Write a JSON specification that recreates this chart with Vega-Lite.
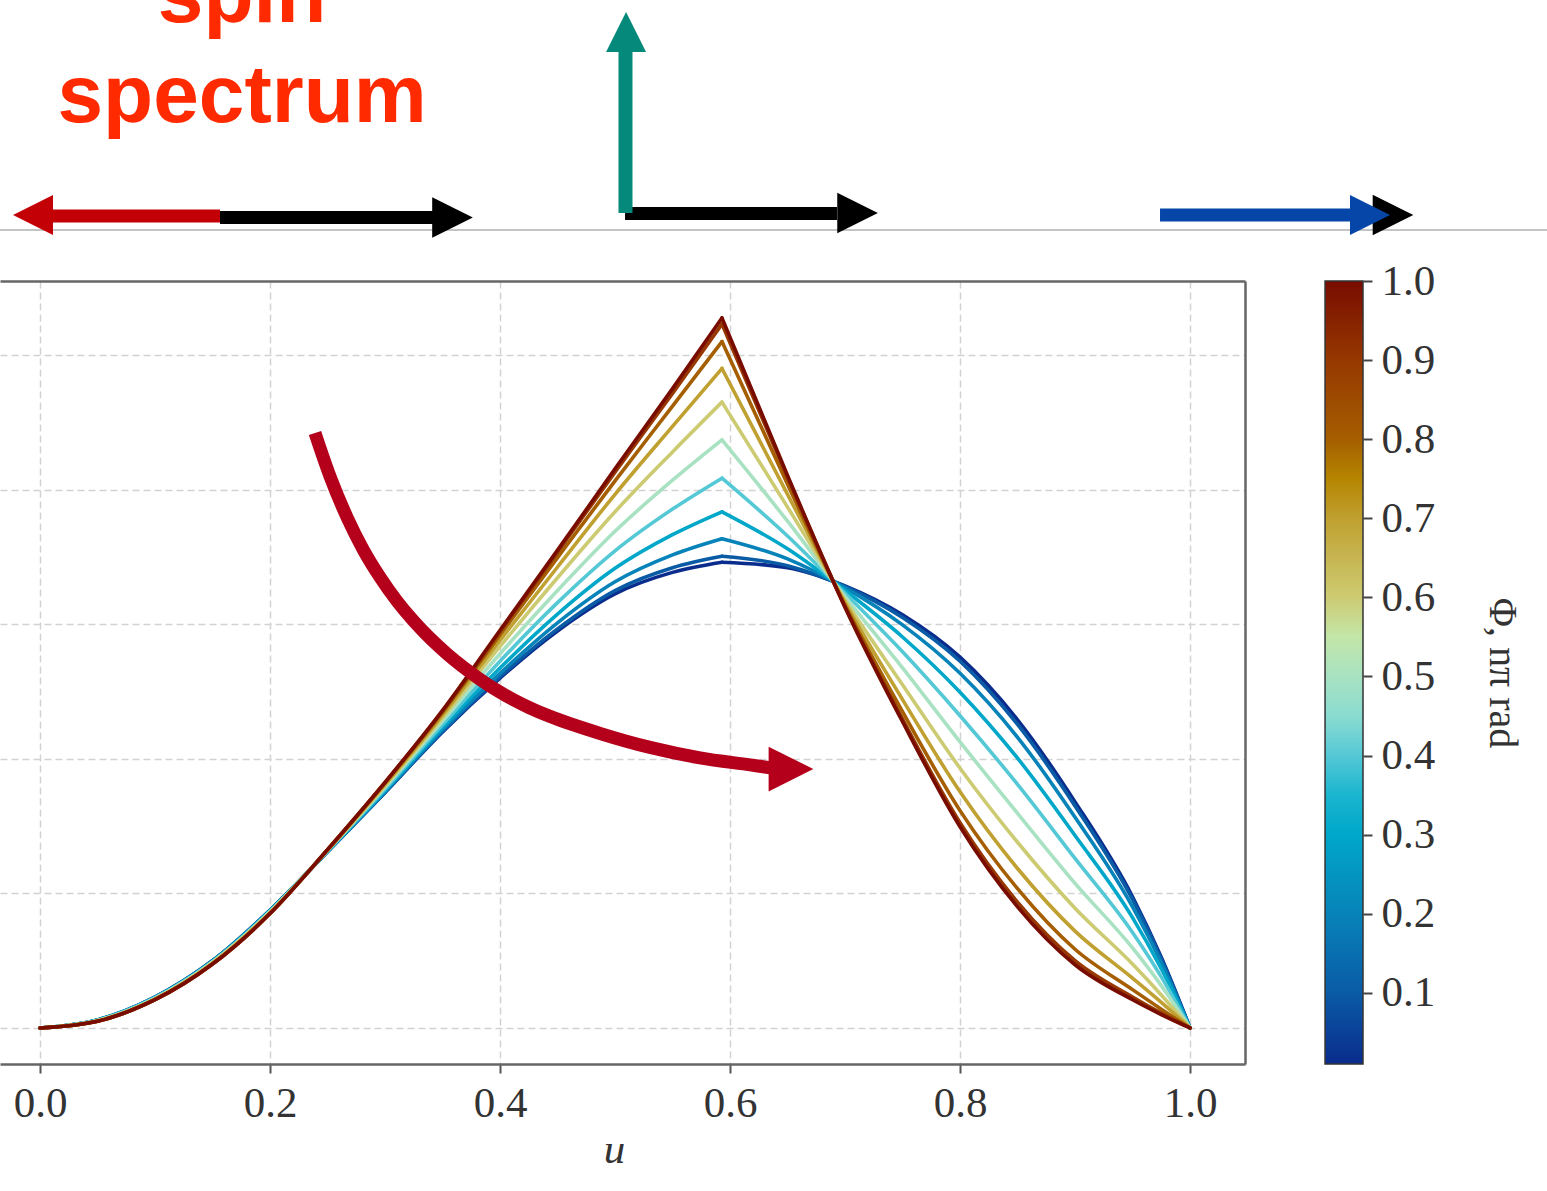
{
  "$schema": "https://vega.github.io/schema/vega-lite/v6.json",
  "width": 1245,
  "height": 783,
  "autosize": {"type": "none"},
  "padding": {"left": 0, "top": 281, "right": 302, "bottom": 127},
  "background": "white",
  "config": {"view": {"stroke": null}, "font": "Liberation Serif"},
  "datasets": {
    "curves": [
      {"phi":0.01,"seg":"a","u":0,"v":0},{"phi":0.01,"seg":"a","u":0.05,"v":0.012},{"phi":0.01,"seg":"a","u":0.1,"v":0.046},{"phi":0.01,"seg":"a","u":0.15,"v":0.100},{"phi":0.01,"seg":"a","u":0.2,"v":0.175},{"phi":0.01,"seg":"a","u":0.25,"v":0.262},{"phi":0.01,"seg":"a","u":0.3,"v":0.350},{"phi":0.01,"seg":"a","u":0.35,"v":0.440},{"phi":0.01,"seg":"a","u":0.4,"v":0.520},{"phi":0.01,"seg":"a","u":0.45,"v":0.590},{"phi":0.01,"seg":"a","u":0.5,"v":0.645},{"phi":0.01,"seg":"a","u":0.55,"v":0.677},{"phi":0.01,"seg":"a","u":0.593,"v":0.692},
      {"phi":0.01,"seg":"b","u":0.593,"v":0.692},{"phi":0.01,"seg":"b","u":0.65,"v":0.684},{"phi":0.01,"seg":"b","u":0.7,"v":0.657},{"phi":0.01,"seg":"b","u":0.75,"v":0.614},{"phi":0.01,"seg":"b","u":0.8,"v":0.551},{"phi":0.01,"seg":"b","u":0.85,"v":0.458},{"phi":0.01,"seg":"b","u":0.9,"v":0.336},{"phi":0.01,"seg":"b","u":0.95,"v":0.195},{"phi":0.01,"seg":"b","u":0.975,"v":0.105},{"phi":0.01,"seg":"b","u":1,"v":0},
      {"phi":0.1,"seg":"a","u":0,"v":0},{"phi":0.1,"seg":"a","u":0.05,"v":0.012},{"phi":0.1,"seg":"a","u":0.1,"v":0.046},{"phi":0.1,"seg":"a","u":0.15,"v":0.100},{"phi":0.1,"seg":"a","u":0.2,"v":0.175},{"phi":0.1,"seg":"a","u":0.25,"v":0.262},{"phi":0.1,"seg":"a","u":0.3,"v":0.350},{"phi":0.1,"seg":"a","u":0.35,"v":0.441},{"phi":0.1,"seg":"a","u":0.4,"v":0.522},{"phi":0.1,"seg":"a","u":0.45,"v":0.593},{"phi":0.1,"seg":"a","u":0.5,"v":0.650},{"phi":0.1,"seg":"a","u":0.55,"v":0.684},{"phi":0.1,"seg":"a","u":0.593,"v":0.701},
      {"phi":0.1,"seg":"b","u":0.593,"v":0.701},{"phi":0.1,"seg":"b","u":0.65,"v":0.687},{"phi":0.1,"seg":"b","u":0.7,"v":0.656},{"phi":0.1,"seg":"b","u":0.75,"v":0.610},{"phi":0.1,"seg":"b","u":0.8,"v":0.545},{"phi":0.1,"seg":"b","u":0.85,"v":0.451},{"phi":0.1,"seg":"b","u":0.9,"v":0.330},{"phi":0.1,"seg":"b","u":0.95,"v":0.191},{"phi":0.1,"seg":"b","u":0.975,"v":0.103},{"phi":0.1,"seg":"b","u":1,"v":0},
      {"phi":0.2,"seg":"a","u":0,"v":0},{"phi":0.2,"seg":"a","u":0.05,"v":0.012},{"phi":0.2,"seg":"a","u":0.1,"v":0.046},{"phi":0.2,"seg":"a","u":0.15,"v":0.100},{"phi":0.2,"seg":"a","u":0.2,"v":0.175},{"phi":0.2,"seg":"a","u":0.25,"v":0.262},{"phi":0.2,"seg":"a","u":0.3,"v":0.351},{"phi":0.2,"seg":"a","u":0.35,"v":0.443},{"phi":0.2,"seg":"a","u":0.4,"v":0.527},{"phi":0.2,"seg":"a","u":0.45,"v":0.602},{"phi":0.2,"seg":"a","u":0.5,"v":0.663},{"phi":0.2,"seg":"a","u":0.55,"v":0.703},{"phi":0.2,"seg":"a","u":0.593,"v":0.727},
      {"phi":0.2,"seg":"b","u":0.593,"v":0.727},{"phi":0.2,"seg":"b","u":0.65,"v":0.697},{"phi":0.2,"seg":"b","u":0.7,"v":0.654},{"phi":0.2,"seg":"b","u":0.75,"v":0.599},{"phi":0.2,"seg":"b","u":0.8,"v":0.527},{"phi":0.2,"seg":"b","u":0.85,"v":0.432},{"phi":0.2,"seg":"b","u":0.9,"v":0.313},{"phi":0.2,"seg":"b","u":0.95,"v":0.180},{"phi":0.2,"seg":"b","u":0.975,"v":0.097},{"phi":0.2,"seg":"b","u":1,"v":0},
      {"phi":0.3,"seg":"a","u":0,"v":0},{"phi":0.3,"seg":"a","u":0.05,"v":0.012},{"phi":0.3,"seg":"a","u":0.1,"v":0.045},{"phi":0.3,"seg":"a","u":0.15,"v":0.099},{"phi":0.3,"seg":"a","u":0.2,"v":0.174},{"phi":0.3,"seg":"a","u":0.25,"v":0.263},{"phi":0.3,"seg":"a","u":0.3,"v":0.353},{"phi":0.3,"seg":"a","u":0.35,"v":0.447},{"phi":0.3,"seg":"a","u":0.4,"v":0.535},{"phi":0.3,"seg":"a","u":0.45,"v":0.615},{"phi":0.3,"seg":"a","u":0.5,"v":0.683},{"phi":0.3,"seg":"a","u":0.55,"v":0.733},{"phi":0.3,"seg":"a","u":0.593,"v":0.767},
      {"phi":0.3,"seg":"b","u":0.593,"v":0.767},{"phi":0.3,"seg":"b","u":0.65,"v":0.712},{"phi":0.3,"seg":"b","u":0.7,"v":0.650},{"phi":0.3,"seg":"b","u":0.75,"v":0.581},{"phi":0.3,"seg":"b","u":0.8,"v":0.499},{"phi":0.3,"seg":"b","u":0.85,"v":0.401},{"phi":0.3,"seg":"b","u":0.9,"v":0.286},{"phi":0.3,"seg":"b","u":0.95,"v":0.164},{"phi":0.3,"seg":"b","u":0.975,"v":0.088},{"phi":0.3,"seg":"b","u":1,"v":0},
      {"phi":0.4,"seg":"a","u":0,"v":0},{"phi":0.4,"seg":"a","u":0.05,"v":0.011},{"phi":0.4,"seg":"a","u":0.1,"v":0.045},{"phi":0.4,"seg":"a","u":0.15,"v":0.098},{"phi":0.4,"seg":"a","u":0.2,"v":0.173},{"phi":0.4,"seg":"a","u":0.25,"v":0.263},{"phi":0.4,"seg":"a","u":0.3,"v":0.355},{"phi":0.4,"seg":"a","u":0.35,"v":0.451},{"phi":0.4,"seg":"a","u":0.4,"v":0.545},{"phi":0.4,"seg":"a","u":0.45,"v":0.632},{"phi":0.4,"seg":"a","u":0.5,"v":0.709},{"phi":0.4,"seg":"a","u":0.55,"v":0.771},{"phi":0.4,"seg":"a","u":0.593,"v":0.817},
      {"phi":0.4,"seg":"b","u":0.593,"v":0.817},{"phi":0.4,"seg":"b","u":0.65,"v":0.731},{"phi":0.4,"seg":"b","u":0.7,"v":0.646},{"phi":0.4,"seg":"b","u":0.75,"v":0.559},{"phi":0.4,"seg":"b","u":0.8,"v":0.464},{"phi":0.4,"seg":"b","u":0.85,"v":0.362},{"phi":0.4,"seg":"b","u":0.9,"v":0.252},{"phi":0.4,"seg":"b","u":0.95,"v":0.142},{"phi":0.4,"seg":"b","u":0.975,"v":0.076},{"phi":0.4,"seg":"b","u":1,"v":0},
      {"phi":0.5,"seg":"a","u":0,"v":0},{"phi":0.5,"seg":"a","u":0.05,"v":0.011},{"phi":0.5,"seg":"a","u":0.1,"v":0.044},{"phi":0.5,"seg":"a","u":0.15,"v":0.098},{"phi":0.5,"seg":"a","u":0.2,"v":0.173},{"phi":0.5,"seg":"a","u":0.25,"v":0.264},{"phi":0.5,"seg":"a","u":0.3,"v":0.358},{"phi":0.5,"seg":"a","u":0.35,"v":0.456},{"phi":0.5,"seg":"a","u":0.4,"v":0.556},{"phi":0.5,"seg":"a","u":0.45,"v":0.650},{"phi":0.5,"seg":"a","u":0.5,"v":0.738},{"phi":0.5,"seg":"a","u":0.55,"v":0.814},{"phi":0.5,"seg":"a","u":0.593,"v":0.874},
      {"phi":0.5,"seg":"b","u":0.593,"v":0.874},{"phi":0.5,"seg":"b","u":0.65,"v":0.753},{"phi":0.5,"seg":"b","u":0.7,"v":0.641},{"phi":0.5,"seg":"b","u":0.75,"v":0.535},{"phi":0.5,"seg":"b","u":0.8,"v":0.425},{"phi":0.5,"seg":"b","u":0.85,"v":0.319},{"phi":0.5,"seg":"b","u":0.9,"v":0.215},{"phi":0.5,"seg":"b","u":0.95,"v":0.119},{"phi":0.5,"seg":"b","u":0.975,"v":0.063},{"phi":0.5,"seg":"b","u":1,"v":0},
      {"phi":0.6,"seg":"a","u":0,"v":0},{"phi":0.6,"seg":"a","u":0.05,"v":0.011},{"phi":0.6,"seg":"a","u":0.1,"v":0.043},{"phi":0.6,"seg":"a","u":0.15,"v":0.097},{"phi":0.6,"seg":"a","u":0.2,"v":0.172},{"phi":0.6,"seg":"a","u":0.25,"v":0.264},{"phi":0.6,"seg":"a","u":0.3,"v":0.360},{"phi":0.6,"seg":"a","u":0.35,"v":0.461},{"phi":0.6,"seg":"a","u":0.4,"v":0.567},{"phi":0.6,"seg":"a","u":0.45,"v":0.669},{"phi":0.6,"seg":"a","u":0.5,"v":0.767},{"phi":0.6,"seg":"a","u":0.55,"v":0.856},{"phi":0.6,"seg":"a","u":0.593,"v":0.930},
      {"phi":0.6,"seg":"b","u":0.593,"v":0.930},{"phi":0.6,"seg":"b","u":0.65,"v":0.774},{"phi":0.6,"seg":"b","u":0.7,"v":0.636},{"phi":0.6,"seg":"b","u":0.75,"v":0.510},{"phi":0.6,"seg":"b","u":0.8,"v":0.386},{"phi":0.6,"seg":"b","u":0.85,"v":0.276},{"phi":0.6,"seg":"b","u":0.9,"v":0.178},{"phi":0.6,"seg":"b","u":0.95,"v":0.095},{"phi":0.6,"seg":"b","u":0.975,"v":0.049},{"phi":0.6,"seg":"b","u":1,"v":0},
      {"phi":0.7,"seg":"a","u":0,"v":0},{"phi":0.7,"seg":"a","u":0.05,"v":0.010},{"phi":0.7,"seg":"a","u":0.1,"v":0.043},{"phi":0.7,"seg":"a","u":0.15,"v":0.096},{"phi":0.7,"seg":"a","u":0.2,"v":0.171},{"phi":0.7,"seg":"a","u":0.25,"v":0.264},{"phi":0.7,"seg":"a","u":0.3,"v":0.362},{"phi":0.7,"seg":"a","u":0.35,"v":0.465},{"phi":0.7,"seg":"a","u":0.4,"v":0.576},{"phi":0.7,"seg":"a","u":0.45,"v":0.685},{"phi":0.7,"seg":"a","u":0.5,"v":0.793},{"phi":0.7,"seg":"a","u":0.55,"v":0.894},{"phi":0.7,"seg":"a","u":0.593,"v":0.980},
      {"phi":0.7,"seg":"b","u":0.593,"v":0.980},{"phi":0.7,"seg":"b","u":0.65,"v":0.793},{"phi":0.7,"seg":"b","u":0.7,"v":0.632},{"phi":0.7,"seg":"b","u":0.75,"v":0.488},{"phi":0.7,"seg":"b","u":0.8,"v":0.351},{"phi":0.7,"seg":"b","u":0.85,"v":0.237},{"phi":0.7,"seg":"b","u":0.9,"v":0.144},{"phi":0.7,"seg":"b","u":0.95,"v":0.074},{"phi":0.7,"seg":"b","u":0.975,"v":0.038},{"phi":0.7,"seg":"b","u":1,"v":0},
      {"phi":0.8,"seg":"a","u":0,"v":0},{"phi":0.8,"seg":"a","u":0.05,"v":0.010},{"phi":0.8,"seg":"a","u":0.1,"v":0.042},{"phi":0.8,"seg":"a","u":0.15,"v":0.095},{"phi":0.8,"seg":"a","u":0.2,"v":0.170},{"phi":0.8,"seg":"a","u":0.25,"v":0.265},{"phi":0.8,"seg":"a","u":0.3,"v":0.364},{"phi":0.8,"seg":"a","u":0.35,"v":0.469},{"phi":0.8,"seg":"a","u":0.4,"v":0.584},{"phi":0.8,"seg":"a","u":0.45,"v":0.699},{"phi":0.8,"seg":"a","u":0.5,"v":0.813},{"phi":0.8,"seg":"a","u":0.55,"v":0.924},{"phi":0.8,"seg":"a","u":0.593,"v":1.020},
      {"phi":0.8,"seg":"b","u":0.593,"v":1.020},{"phi":0.8,"seg":"b","u":0.65,"v":0.808},{"phi":0.8,"seg":"b","u":0.7,"v":0.628},{"phi":0.8,"seg":"b","u":0.75,"v":0.470},{"phi":0.8,"seg":"b","u":0.8,"v":0.323},{"phi":0.8,"seg":"b","u":0.85,"v":0.207},{"phi":0.8,"seg":"b","u":0.9,"v":0.117},{"phi":0.8,"seg":"b","u":0.95,"v":0.057},{"phi":0.8,"seg":"b","u":0.975,"v":0.028},{"phi":0.8,"seg":"b","u":1,"v":0},
      {"phi":0.9,"seg":"a","u":0,"v":0},{"phi":0.9,"seg":"a","u":0.05,"v":0.010},{"phi":0.9,"seg":"a","u":0.1,"v":0.042},{"phi":0.9,"seg":"a","u":0.15,"v":0.095},{"phi":0.9,"seg":"a","u":0.2,"v":0.170},{"phi":0.9,"seg":"a","u":0.25,"v":0.265},{"phi":0.9,"seg":"a","u":0.3,"v":0.365},{"phi":0.9,"seg":"a","u":0.35,"v":0.471},{"phi":0.9,"seg":"a","u":0.4,"v":0.589},{"phi":0.9,"seg":"a","u":0.45,"v":0.707},{"phi":0.9,"seg":"a","u":0.5,"v":0.826},{"phi":0.9,"seg":"a","u":0.55,"v":0.943},{"phi":0.9,"seg":"a","u":0.593,"v":1.046},
      {"phi":0.9,"seg":"b","u":0.593,"v":1.046},{"phi":0.9,"seg":"b","u":0.65,"v":0.818},{"phi":0.9,"seg":"b","u":0.7,"v":0.626},{"phi":0.9,"seg":"b","u":0.75,"v":0.459},{"phi":0.9,"seg":"b","u":0.8,"v":0.305},{"phi":0.9,"seg":"b","u":0.85,"v":0.187},{"phi":0.9,"seg":"b","u":0.9,"v":0.100},{"phi":0.9,"seg":"b","u":0.95,"v":0.046},{"phi":0.9,"seg":"b","u":0.975,"v":0.022},{"phi":0.9,"seg":"b","u":1,"v":0},
      {"phi":1.0,"seg":"a","u":0,"v":0},{"phi":1.0,"seg":"a","u":0.05,"v":0.010},{"phi":1.0,"seg":"a","u":0.1,"v":0.042},{"phi":1.0,"seg":"a","u":0.15,"v":0.095},{"phi":1.0,"seg":"a","u":0.2,"v":0.170},{"phi":1.0,"seg":"a","u":0.25,"v":0.265},{"phi":1.0,"seg":"a","u":0.3,"v":0.365},{"phi":1.0,"seg":"a","u":0.35,"v":0.472},{"phi":1.0,"seg":"a","u":0.4,"v":0.591},{"phi":1.0,"seg":"a","u":0.45,"v":0.710},{"phi":1.0,"seg":"a","u":0.5,"v":0.831},{"phi":1.0,"seg":"a","u":0.55,"v":0.950},{"phi":1.0,"seg":"a","u":0.593,"v":1.055},
      {"phi":1.0,"seg":"b","u":0.593,"v":1.055},{"phi":1.0,"seg":"b","u":0.65,"v":0.821},{"phi":1.0,"seg":"b","u":0.7,"v":0.625},{"phi":1.0,"seg":"b","u":0.75,"v":0.455},{"phi":1.0,"seg":"b","u":0.8,"v":0.299},{"phi":1.0,"seg":"b","u":0.85,"v":0.180},{"phi":1.0,"seg":"b","u":0.9,"v":0.094},{"phi":1.0,"seg":"b","u":0.95,"v":0.042},{"phi":1.0,"seg":"b","u":0.975,"v":0.020},{"phi":1.0,"seg":"b","u":1,"v":0}
    ],
    "bend": [
      {"a":0.2391,"c":0.8841},{"a":0.2522,"c":0.8195},{"a":0.2670,"c":0.7588},{"a":0.2809,"c":0.7113},{"a":0.2957,"c":0.6697},{"a":0.3104,"c":0.6343},{"a":0.3243,"c":0.6058},{"a":0.3391,"c":0.5792},{"a":0.3539,"c":0.5560},{"a":0.3678,"c":0.5366},{"a":0.3826,"c":0.5181},{"a":0.3974,"c":0.5016},{"a":0.4113,"c":0.4881},{"a":0.4261,"c":0.4755},{"a":0.4435,"c":0.4630},{"a":0.4870,"c":0.4377},{"a":0.5304,"c":0.4169},{"a":0.5739,"c":0.4013},{"a":0.6174,"c":0.3909},{"a":0.6365,"c":0.3863}
    ]
  },
  "layer": [
    {
      "layer": [
        {
          "data": {"name": "curves"},
          "mark": {"type": "line", "strokeWidth": 3.6, "strokeJoin": "round", "strokeCap": "round", "interpolate": "monotone"},
          "encoding": {
            "x": {"field": "u", "type": "quantitative",
              "scale": {"domain": [-0.0348, 1.0478], "nice": false, "zero": false},
              "axis": {"orient": "bottom", "values": [0, 0.2, 0.4, 0.6, 0.8, 1.0], "format": ".1f",
                "labelFont": "Liberation Serif", "labelFontSize": 43, "labelColor": "#333", "labelPadding": 9,
                "ticks": true, "tickSize": 9, "tickWidth": 2, "tickColor": "#555",
                "domain": true, "domainColor": "#666", "domainWidth": 2.5,
                "grid": true, "gridDash": [7, 4], "gridColor": "#d2d2d2", "gridWidth": 1.5,
                "title": "u", "titleFont": "Liberation Serif", "titleFontStyle": "italic", "titleFontWeight": "normal",
                "titleFontSize": 43, "titleColor": "#333", "titleX": 614, "titleY": 98, "titleBaseline": "alphabetic"}},
            "y": {"field": "v", "type": "quantitative",
              "scale": {"domain": [-0.0535, 1.10996], "nice": false, "zero": false},
              "axis": {"orient": "left", "values": [0, 0.2, 0.4, 0.6, 0.8, 1.0], "labels": false, "ticks": false, "domain": false,
                "grid": true, "gridDash": [7, 4], "gridColor": "#d2d2d2", "gridWidth": 1.5, "title": null}},
            "color": {"field": "phi", "type": "quantitative",
              "scale": {"domain": [0.01, 0.1, 0.2, 0.3, 0.35, 0.4, 0.45, 0.5, 0.55, 0.6, 0.7, 0.75, 0.8, 0.9, 1.0],
                "range": ["#0a2c8c", "#0a5ba6", "#0783b9", "#00a7c9", "#1ab5cf", "#55c8d6", "#8adcd0", "#a8e2c2", "#c3e6a8", "#cdcb72", "#c0a030", "#b58500", "#a55e00", "#963800", "#780c00"]},
              "legend": null},
            "detail": [{"field": "phi", "type": "nominal"}, {"field": "seg", "type": "nominal"}]
          }
        },
        {
          "data": {"values": [{"a": -0.0348, "b": 1.3104, "c": 1.1857}]},
          "mark": {"type": "rule", "color": "#c4c4c4", "strokeWidth": 2},
          "encoding": {
            "x": {"field": "a", "type": "quantitative", "scale": {"domain": [-0.0348, 1.0478], "nice": false, "zero": false},
              "axis": {"orient": "top", "labels": false, "ticks": false, "grid": false, "domain": true, "domainColor": "#666", "domainWidth": 2.5, "title": null}},
            "x2": {"field": "b"},
            "y": {"field": "c", "type": "quantitative", "scale": {"domain": [-0.0535, 1.10996], "nice": false, "zero": false},
              "axis": {"orient": "right", "labels": false, "ticks": false, "grid": false, "domain": true, "domainColor": "#666", "domainWidth": 2.5, "title": null}}
          }
        },
        {
          "data": {"values": [{"a": 0.0087, "b": 0.1565, "c": 1.2065}]},
          "mark": {"type": "rule", "color": "#c40007", "strokeWidth": 13},
          "encoding": {
            "x": {"field": "a", "type": "quantitative", "axis": null},
            "x2": {"field": "b"},
            "y": {"field": "c", "type": "quantitative", "axis": null}
          }
        },
        {
          "data": {"values": [{"a": -0.0061, "c": 1.2080}]},
          "mark": {"type": "point", "shape": "M1,-1L-1,0L1,1Z", "size": 1600, "filled": true, "opacity": 1, "color": "#c40007", "strokeWidth": 0},
          "encoding": {
            "x": {"field": "a", "type": "quantitative", "axis": null},
            "y": {"field": "c", "type": "quantitative", "axis": null}
          }
        },
        {
          "data": {"values": [{"a": 0.1565, "b": 0.3417, "c": 1.2043}, {"a": 0.5087, "b": 0.6930, "c": 1.2103}]},
          "mark": {"type": "rule", "color": "#000000", "strokeWidth": 13},
          "encoding": {
            "x": {"field": "a", "type": "quantitative", "axis": null},
            "x2": {"field": "b"},
            "y": {"field": "c", "type": "quantitative", "axis": null}
          }
        },
        {
          "data": {"values": [{"a": 0.3587, "c": 1.2043}, {"a": 0.7109, "c": 1.2110}, {"a": 1.1765, "c": 1.2080}]},
          "mark": {"type": "point", "shape": "M-1,-1L1,0L-1,1Z", "size": 1650, "filled": true, "opacity": 1, "color": "#000000", "strokeWidth": 0},
          "encoding": {
            "x": {"field": "a", "type": "quantitative", "axis": null},
            "y": {"field": "c", "type": "quantitative", "axis": null}
          }
        },
        {
          "data": {"values": [{"a": 0.5091, "c": 1.2110, "d": 1.4502}]},
          "mark": {"type": "rule", "color": "#05897a", "strokeWidth": 14},
          "encoding": {
            "x": {"field": "a", "type": "quantitative", "axis": null},
            "y": {"field": "c", "type": "quantitative", "axis": null},
            "y2": {"field": "d"}
          }
        },
        {
          "data": {"values": [{"a": 0.5096, "c": 1.4799}]},
          "mark": {"type": "point", "shape": "M-1,1L0,-1L1,1Z", "size": 1600, "filled": true, "opacity": 1, "color": "#05897a", "strokeWidth": 0},
          "encoding": {
            "x": {"field": "a", "type": "quantitative", "axis": null},
            "y": {"field": "c", "type": "quantitative", "axis": null}
          }
        },
        {
          "data": {"values": [{"a": 0.9739, "b": 1.1409, "c": 1.2080}]},
          "mark": {"type": "rule", "color": "#0546a8", "strokeWidth": 13},
          "encoding": {
            "x": {"field": "a", "type": "quantitative", "axis": null},
            "x2": {"field": "b"},
            "y": {"field": "c", "type": "quantitative", "axis": null}
          }
        },
        {
          "data": {"values": [{"a": 1.1565, "c": 1.2080}]},
          "mark": {"type": "point", "shape": "M-1,-1L1,0L-1,1Z", "size": 1600, "filled": true, "opacity": 1, "color": "#0546a8", "strokeWidth": 0},
          "encoding": {
            "x": {"field": "a", "type": "quantitative", "axis": null},
            "y": {"field": "c", "type": "quantitative", "axis": null}
          }
        },
        {
          "data": {"name": "bend"},
          "mark": {"type": "line", "color": "#b5001b", "strokeWidth": 13, "interpolate": "monotone"},
          "encoding": {
            "x": {"field": "a", "type": "quantitative", "axis": null},
            "y": {"field": "c", "type": "quantitative", "axis": null}
          }
        },
        {
          "data": {"values": [{"a": 0.6530, "c": 0.3848}]},
          "mark": {"type": "point", "shape": "M-1,-1L1,0L-1,1Z", "size": 2000, "filled": true, "opacity": 1, "color": "#b5001b", "strokeWidth": 0},
          "encoding": {
            "x": {"field": "a", "type": "quantitative", "axis": null},
            "y": {"field": "c", "type": "quantitative", "axis": null}
          }
        },
        {
          "data": {"values": [{"a": 0.1757, "c": 1.4948, "t": "spin"}, {"a": 0.1757, "c": 1.3467, "t": "spectrum"}]},
          "mark": {"type": "text", "font": "Liberation Sans", "fontWeight": "bold", "fontSize": 82, "color": "#ff2a00", "align": "center", "baseline": "alphabetic"},
          "encoding": {
            "x": {"field": "a", "type": "quantitative", "axis": null},
            "y": {"field": "c", "type": "quantitative", "axis": null},
            "text": {"field": "t"}
          }
        }
      ]
    },
    {
      "data": {"values": [{"lo": 0.01, "hi": 1.0}]},
      "mark": {"type": "rect", "stroke": "#333333", "strokeWidth": 1.5,
        "color": {"gradient": "linear", "x1": 0, "y1": 1, "x2": 0, "y2": 0,
          "stops": [
            {"offset": 0, "color": "#0a2c8c"},
            {"offset": 0.0909, "color": "#0a5ba6"},
            {"offset": 0.1919, "color": "#0783b9"},
            {"offset": 0.2929, "color": "#00a7c9"},
            {"offset": 0.3434, "color": "#1ab5cf"},
            {"offset": 0.3939, "color": "#55c8d6"},
            {"offset": 0.4444, "color": "#8adcd0"},
            {"offset": 0.4949, "color": "#a8e2c2"},
            {"offset": 0.5455, "color": "#c3e6a8"},
            {"offset": 0.596, "color": "#cdcb72"},
            {"offset": 0.697, "color": "#c0a030"},
            {"offset": 0.7475, "color": "#b58500"},
            {"offset": 0.798, "color": "#a55e00"},
            {"offset": 0.899, "color": "#963800"},
            {"offset": 1, "color": "#780c00"}
          ]}},
      "encoding": {
        "x": {"datum": 1.1174, "type": "quantitative", "scale": {"domain": [-0.0348, 1.0478], "nice": false, "zero": false}, "axis": null},
        "x2": {"datum": 1.1504},
        "y": {"field": "lo", "type": "quantitative",
          "scale": {"domain": [0.01, 1.0], "nice": false, "zero": false},
          "axis": {"orient": "right", "offset": 118, "values": [0.1, 0.2, 0.3, 0.4, 0.5, 0.6, 0.7, 0.8, 0.9, 1.0], "format": ".1f",
            "labelFont": "Liberation Serif", "labelFontSize": 43, "labelColor": "#333", "labelPadding": 9,
            "ticks": true, "tickSize": 9, "tickWidth": 2, "tickColor": "#444", "domain": false, "grid": false,
            "title": "Φ, nπ rad", "titleFont": "Liberation Serif", "titleFontSize": 40, "titleFontWeight": "normal",
            "titleColor": "#333", "titlePadding": 47}},
        "y2": {"field": "hi"}
      }
    }
  ],
  "resolve": {"scale": {"y": "independent"}, "axis": {"y": "independent"}}
}
